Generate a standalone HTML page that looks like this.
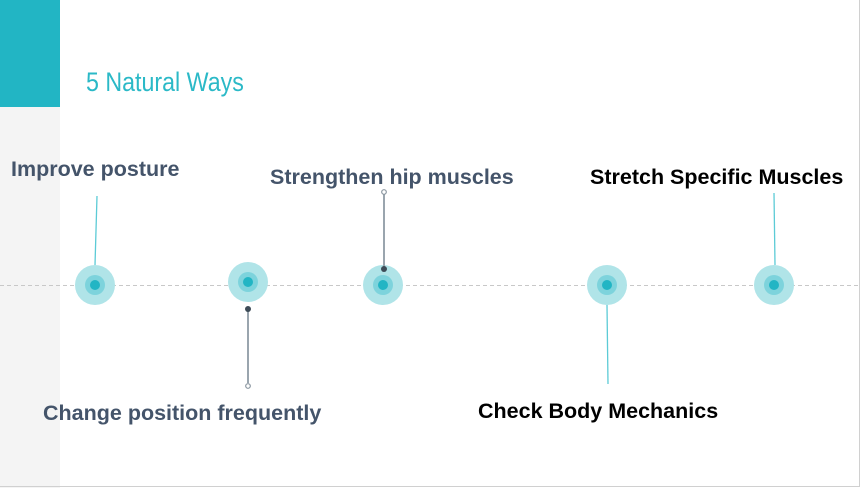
<!DOCTYPE html>
<html><head><style>
body{margin:0;width:862px;height:488px;overflow:hidden;background:#fff;font-family:"Liberation Sans",sans-serif;position:relative}
.t{position:absolute;font-weight:bold;font-size:21.5px;white-space:nowrap;line-height:1}
</style></head><body>
<div style="position:absolute;left:0;top:0;width:60px;height:107px;background:#22b5c4"></div>
<div style="position:absolute;left:0;top:107px;width:60px;height:381px;background:#f4f4f4"></div>
<div style="position:absolute;left:859px;top:0;width:1px;height:487px;background:#d0d0d0"></div>
<div style="position:absolute;left:0;top:486px;width:860px;height:1px;background:#d0d0d0"></div>
<div style="position:absolute;left:86px;top:69px;font-size:27px;color:#2bb9c7;transform:scaleX(0.86);transform-origin:left top;white-space:nowrap;line-height:1">5 Natural Ways</div>
<div class="t" style="left:11px;top:159px;color:#44546a">Improve posture</div>
<div class="t" style="left:270px;top:167px;color:#44546a">Strengthen hip muscles</div>
<div class="t" style="left:590px;top:167px;color:#000">Stretch Specific Muscles</div>
<div class="t" style="left:43px;top:403px;color:#44546a">Change position frequently</div>
<div class="t" style="left:478px;top:401px;color:#000">Check Body Mechanics</div>
<svg width="862" height="488" style="position:absolute;left:0;top:0">
<line x1="0" y1="285.5" x2="859" y2="285.5" stroke="#c8c8c8" stroke-dasharray="4,3"/>
<g fill="#b0e4e8"><circle cx="95" cy="285" r="20"/><circle cx="248" cy="282" r="20"/><circle cx="383" cy="285" r="20"/><circle cx="607" cy="285" r="20"/><circle cx="774" cy="285" r="20"/></g>
<g fill="#7dd3dc"><circle cx="95" cy="285" r="10"/><circle cx="248" cy="282" r="10"/><circle cx="383" cy="285" r="10"/><circle cx="607" cy="285" r="10"/><circle cx="774" cy="285" r="10"/></g>
<g fill="#22b5c4"><circle cx="95" cy="285" r="5"/><circle cx="248" cy="282" r="5"/><circle cx="383" cy="285" r="5"/><circle cx="607" cy="285" r="5"/><circle cx="774" cy="285" r="5"/></g>
<g stroke="#5ccbd6" stroke-width="1.3"><line x1="97" y1="196" x2="95" y2="265"/><line x1="607" y1="305" x2="608" y2="384"/><line x1="774" y1="193" x2="775" y2="265"/></g>
<g stroke="#9aa5ae" stroke-width="2"><line x1="248" y1="309" x2="248" y2="383"/><line x1="384" y1="193" x2="384" y2="269"/></g>
<circle cx="248" cy="309" r="3" fill="#3d4b57"/><circle cx="384" cy="269" r="3" fill="#3d4b57"/>
<circle cx="248" cy="386" r="2.3" fill="#fff" stroke="#8a96a0" stroke-width="1.2"/><circle cx="384" cy="192" r="2.3" fill="#fff" stroke="#8a96a0" stroke-width="1.2"/>
</svg>
</body></html>
